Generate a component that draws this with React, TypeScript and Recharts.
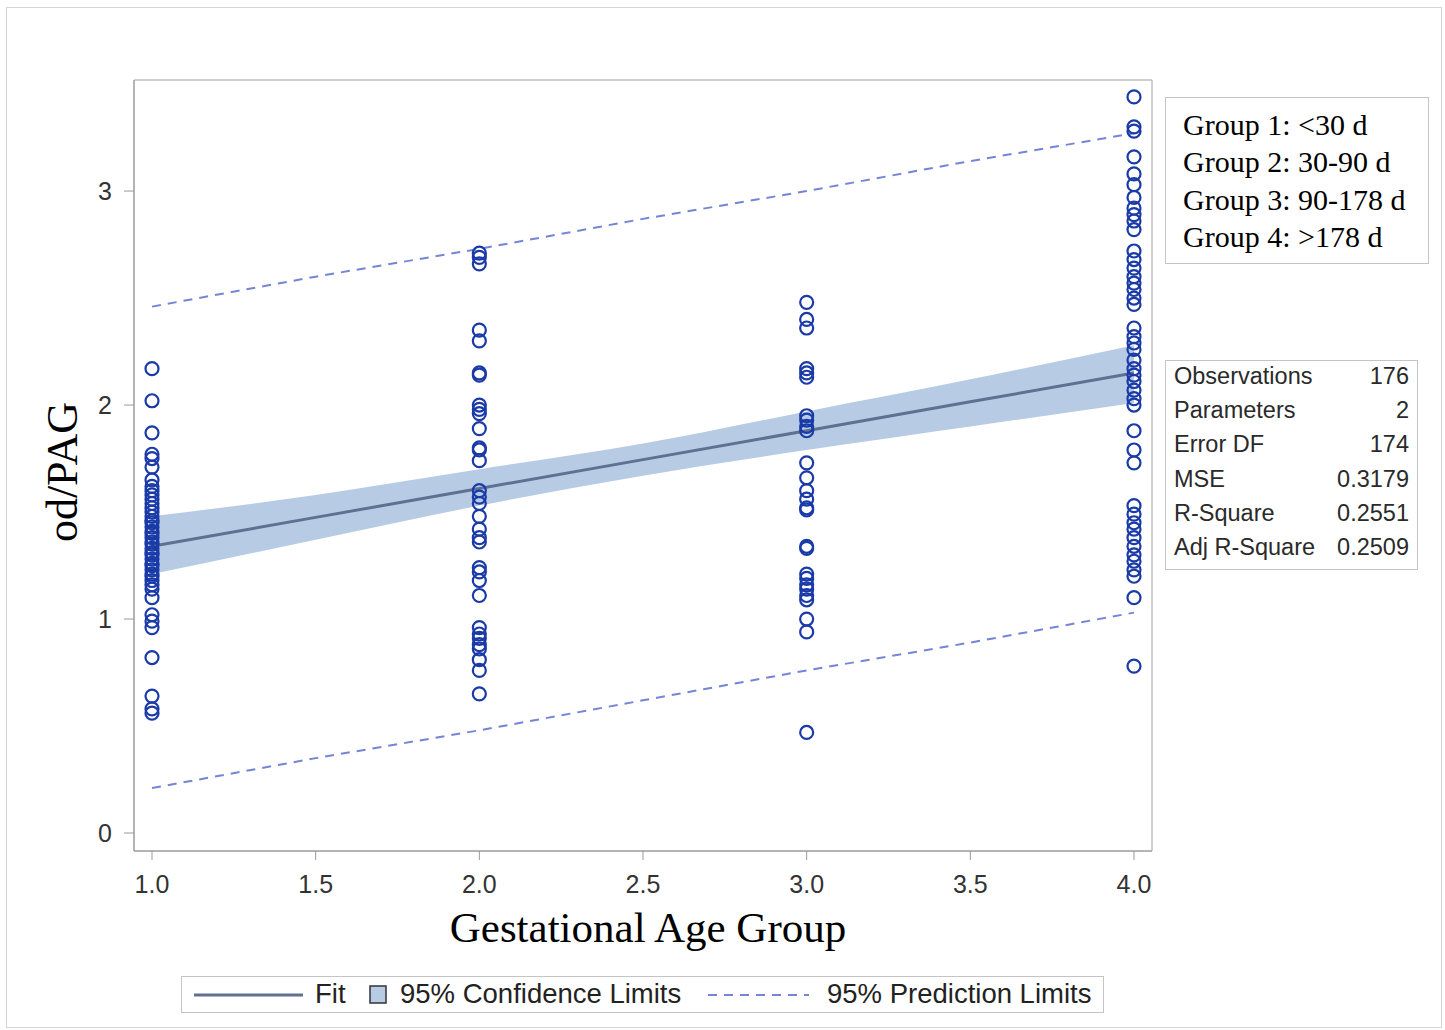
import { ComposedChart, Scatter, Line, Area, XAxis, YAxis, ReferenceArea } from 'recharts';

// observed od/PAG values per gestational age group
const group1 = [2.17, 2.02, 1.87, 1.77, 1.75, 1.71, 1.65, 1.62, 1.60, 1.58, 1.56, 1.54, 1.52, 1.50, 1.48, 1.46, 1.45, 1.43, 1.41, 1.40, 1.38, 1.36, 1.35, 1.33, 1.31, 1.30, 1.28, 1.26, 1.25, 1.23, 1.21, 1.20, 1.18, 1.16, 1.14, 1.10, 1.02, 0.99, 0.96, 0.82, 0.64, 0.58, 0.56];
const group2 = [2.71, 2.69, 2.66, 2.35, 2.30, 2.15, 2.14, 2.00, 1.98, 1.96, 1.89, 1.80, 1.79, 1.74, 1.60, 1.57, 1.54, 1.48, 1.42, 1.38, 1.36, 1.24, 1.22, 1.18, 1.11, 0.96, 0.93, 0.91, 0.88, 0.86, 0.81, 0.76, 0.65];
const group3 = [2.48, 2.40, 2.36, 2.17, 2.15, 2.13, 1.95, 1.93, 1.90, 1.88, 1.73, 1.66, 1.60, 1.56, 1.52, 1.51, 1.34, 1.33, 1.21, 1.19, 1.16, 1.14, 1.11, 1.09, 1.00, 0.94, 0.47];
const group4 = [3.44, 3.30, 3.28, 3.16, 3.08, 3.03, 2.97, 2.92, 2.89, 2.86, 2.82, 2.72, 2.68, 2.64, 2.60, 2.57, 2.54, 2.50, 2.47, 2.36, 2.32, 2.29, 2.26, 2.21, 2.17, 2.14, 2.11, 2.07, 2.03, 2.00, 1.88, 1.79, 1.73, 1.53, 1.49, 1.45, 1.42, 1.38, 1.34, 1.30, 1.27, 1.23, 1.20, 1.10, 0.78];

// regression fit, confidence and prediction limits read at these x positions
const fitX = [1, 1.5, 2, 2.5, 3, 3.5, 4];
const fitY = [1.34, 1.475, 1.61, 1.745, 1.88, 2.015, 2.15];
const ciLower = [1.21, 1.37, 1.53, 1.67, 1.79, 1.90, 2.01];
const ciUpper = [1.48, 1.58, 1.70, 1.82, 1.97, 2.12, 2.28];
const piLower = [0.21, 0.35, 0.48, 0.62, 0.76, 0.89, 1.03];
const piUpper = [2.46, 2.60, 2.73, 2.87, 3.00, 3.14, 3.27];

const xTicks = [1, 1.5, 2, 2.5, 3, 3.5, 4];
const yTicks = [0, 1, 2, 3];

const groupLabels = ['Group 1: <30 d', 'Group 2: 30-90 d', 'Group 3: 90-178 d', 'Group 4: >178 d'];
const statNames = ['Observations', 'Parameters', 'Error DF', 'MSE', 'R-Square', 'Adj R-Square'];
const statValues = ['176', '2', '174', '0.3179', '0.2551', '0.2509'];

const X_DOMAIN = [0.945, 4.055];
const Y_DOMAIN = [-0.084, 3.519];

const points = [group1, group2, group3, group4].flatMap((g, i) => g.map(y => ({ x: i + 1, y })));
const lineData = fitX.map((x, i) => ({
  x,
  fit: fitY[i],
  ci: [ciLower[i], ciUpper[i]],
  piLo: piLower[i],
  piHi: piUpper[i],
}));

const SANS = '"Liberation Sans", Arial, sans-serif';
const SERIF = '"Liberation Serif", "Times New Roman", serif';

const OpenCircle = (props: any) => (
  <circle cx={props.cx} cy={props.cy} r={6.5} fill="none" stroke="#1a3aa8" strokeWidth={2.2} />
);

export default function App() {
  return (
    <div style={{ position: 'absolute', left: 0, top: 0, width: 1445, height: 1030, background: '#fff', fontFamily: SANS }}>
      <div style={{ position: 'absolute', left: 6, top: 7, width: 1434, height: 1019, border: '1px solid #d4d4d4' }} />
      <ComposedChart
        width={1445}
        height={1030}
        data={lineData}
        margin={{ top: 80, right: 293, bottom: 129, left: 84 }}
        style={{ position: 'absolute', left: 0, top: 0 }}
      >
        <XAxis
          type="number"
          dataKey="x"
          domain={X_DOMAIN}
          allowDataOverflow
          ticks={xTicks}
          tickFormatter={(v: number) => v.toFixed(1)}
          height={50}
          stroke="#999"
          tickSize={9}
          tickMargin={15}
          tick={{ fill: '#333', fontSize: 25, fontFamily: SANS }}
        />
        <YAxis
          type="number"
          domain={Y_DOMAIN}
          allowDataOverflow
          ticks={yTicks}
          width={50}
          stroke="#999"
          tickSize={10}
          tickMargin={12}
          tick={{ fill: '#333', fontSize: 25, fontFamily: SANS }}
        />
        <ReferenceArea x1={X_DOMAIN[0]} x2={X_DOMAIN[1]} y1={Y_DOMAIN[0]} y2={Y_DOMAIN[1]} fill="none" stroke="#a0a0a0" ifOverflow="visible" />
        <Area dataKey="ci" type="monotone" fill="#b7cbe5" fillOpacity={1} stroke="none" isAnimationActive={false} />
        <Line dataKey="piHi" type="linear" stroke="#7585d6" strokeWidth={2} strokeDasharray="9 7" dot={false} isAnimationActive={false} />
        <Line dataKey="piLo" type="linear" stroke="#7585d6" strokeWidth={2} strokeDasharray="9 7" dot={false} isAnimationActive={false} />
        <Line dataKey="fit" type="linear" stroke="#5e7191" strokeWidth={3} dot={false} isAnimationActive={false} />
        <Scatter data={points} dataKey="y" shape={OpenCircle} isAnimationActive={false} />
      </ComposedChart>

      {/* axis titles */}
      <div style={{ position: 'absolute', left: 0, width: 1296, top: 903, textAlign: 'center', fontFamily: SERIF, fontSize: 43, color: '#000' }}>
        Gestational Age Group
      </div>
      <div style={{ position: 'absolute', left: 62, top: 472, transform: 'translate(-50%, -50%) rotate(-90deg)', fontFamily: SERIF, fontSize: 44, color: '#000', whiteSpace: 'nowrap' }}>
        od/PAG
      </div>

      {/* group definitions */}
      <div style={{ position: 'absolute', left: 1165, top: 97, width: 264, height: 167, border: '1px solid #c4c4c4', boxSizing: 'border-box' }}>
        {groupLabels.map((t, i) => (
          <div key={t} style={{ position: 'absolute', left: 17, top: 9 + i * 37.3, fontFamily: SERIF, fontSize: 30, lineHeight: '36px', color: '#000', whiteSpace: 'nowrap' }}>
            {t}
          </div>
        ))}
      </div>

      {/* fit statistics */}
      <div style={{ position: 'absolute', left: 1165, top: 360, width: 253, height: 210, border: '1px solid #c4c4c4', boxSizing: 'border-box' }}>
        {statNames.map((n, i) => (
          <div key={n} style={{ position: 'absolute', left: 8, right: 8, top: 1 + i * 34.2, height: 28, display: 'flex', justifyContent: 'space-between', fontSize: 23.5, lineHeight: '28px', color: '#2a2a2a' }}>
            <span>{n}</span>
            <span>{statValues[i]}</span>
          </div>
        ))}
      </div>

      {/* legend */}
      <div style={{ position: 'absolute', left: 181, top: 976, width: 923, height: 37, border: '1px solid #c4c4c4', boxSizing: 'border-box', fontSize: 27.5, color: '#222' }}>
        <svg width={923} height={37} style={{ position: 'absolute', left: 0, top: 0 }}>
          <line x1={12} x2={121} y1={18} y2={18} stroke="#5e7191" strokeWidth={3} />
          <rect x={188} y={9} width={16} height={17} fill="#b7cbe5" stroke="#333" strokeWidth={1.5} />
          <line x1={526} x2={627} y1={18} y2={18} stroke="#7585d6" strokeWidth={2} strokeDasharray="9 7" />
        </svg>
        <span style={{ position: 'absolute', left: 133, top: 1, lineHeight: '32px' }}>Fit</span>
        <span style={{ position: 'absolute', left: 218, top: 1, lineHeight: '32px', whiteSpace: 'nowrap' }}>95% Confidence Limits</span>
        <span style={{ position: 'absolute', left: 645, top: 1, lineHeight: '32px', whiteSpace: 'nowrap' }}>95% Prediction Limits</span>
      </div>
    </div>
  );
}
